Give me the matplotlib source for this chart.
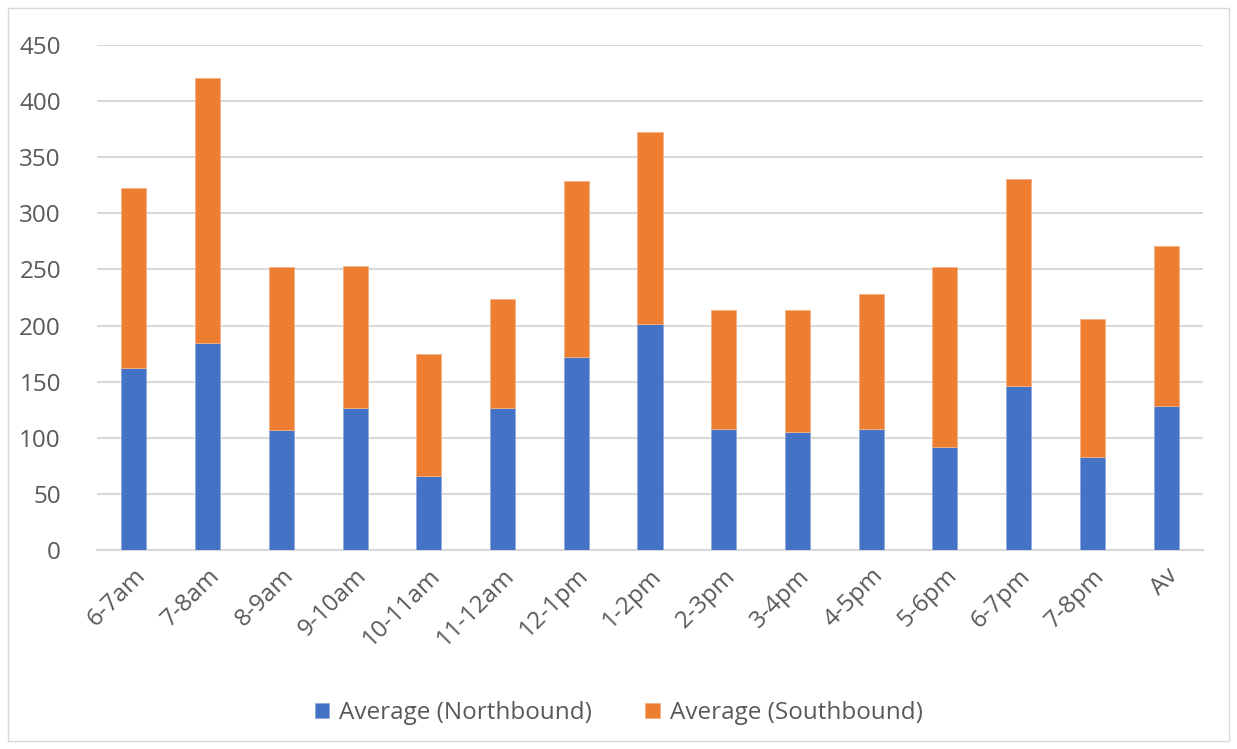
import matplotlib.pyplot as plt
from matplotlib.patches import Rectangle

# time slots
slots = ["6-7am", "7-8am", "8-9am", "9-10am", "10-11am", "11-12am", "12-1pm",
         "1-2pm", "2-3pm", "3-4pm", "4-5pm", "5-6pm", "6-7pm", "7-8pm", "Av"]
northbound = [162, 184.5, 107, 126.5, 66, 126.5, 172, 201.5, 108, 105.5, 108, 92, 146.5, 83, 128]
southbound = [161, 236, 145, 127, 109, 97.5, 157, 171, 106, 108.5, 120.5, 160.5, 184, 123, 143]
yticks = [0, 50, 100, 150, 200, 250, 300, 350, 400, 450]

blue = "#4472c4"
orange = "#ed7d31"
grey_text = "#595959"
grid_col = "#d9d9d9"

plt.rcParams["font.family"] = ["Open Sans", "DejaVu Sans"]

fig = plt.figure(figsize=(12.37, 7.49), dpi=100)
ax = fig.add_axes([97 / 1237, 1 - 550 / 749, (1203 - 97) / 1237, (550 - 45) / 749])

x = range(len(slots))
w = 0.34
ax.bar(x, northbound, width=w, color=blue, edgecolor="#8faadc", linewidth=0.6,
       label="Average (Northbound)", zorder=3)
ax.bar(x, southbound, width=w, bottom=northbound, color=orange, edgecolor="#f4b183",
       linewidth=0.6, label="Average (Southbound)", zorder=3)

ax.set_xlim(-0.5, len(slots) - 0.5)
ax.set_ylim(0, 450)
ax.set_yticks(yticks)
ax.set_xticks(list(x))
ax.set_xticklabels(slots, rotation=45, ha="right", rotation_mode="anchor")
ax.tick_params(axis="both", length=0, labelsize=17.5, colors=grey_text)
ax.tick_params(axis="y", pad=26)
ax.tick_params(axis="x", pad=10)
ax.grid(axis="y", color=grid_col, linewidth=1.5, zorder=0)
for side in ["top", "right", "left"]:
    ax.spines[side].set_visible(False)
ax.spines["bottom"].set_color(grid_col)
ax.spines["bottom"].set_linewidth(1.5)

leg = fig.legend(loc="center", bbox_to_anchor=(0.5, 1 - 713 / 749), ncol=2, frameon=False,
                 fontsize=17.5, handlelength=0.6, handleheight=0.6, columnspacing=2.2,
                 handletextpad=0.4)
for t in leg.get_texts():
    t.set_color(grey_text)

# chart border
fig.patches.append(Rectangle((8 / 1237, 8 / 749), 1 - 16 / 1237, 1 - 16 / 749,
                             transform=fig.transFigure, fill=False,
                             edgecolor="#d9d9d9", linewidth=1))

fig.savefig("out.png", dpi=100, facecolor="white")
